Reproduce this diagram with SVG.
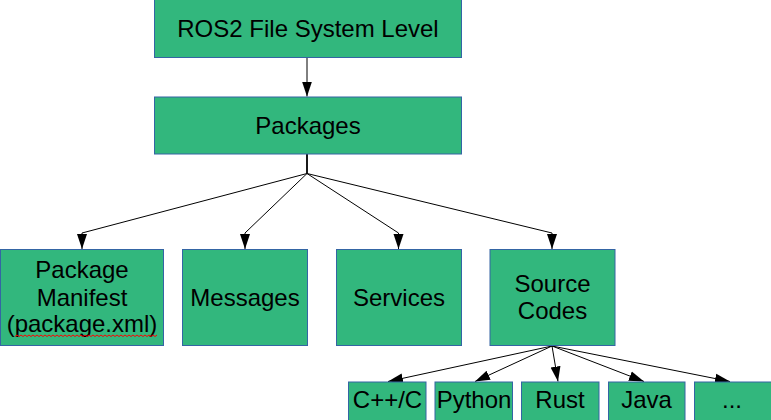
<svg xmlns="http://www.w3.org/2000/svg" width="771" height="420" viewBox="0 0 771 420">
<style>
.box{fill:#32b77d;stroke:#3465a4;stroke-width:1}
.t{font-family:"Liberation Sans",Arial,sans-serif;font-size:24px;fill:#000;text-anchor:middle}
.c{fill:none;stroke:#000;stroke-width:1}
</style>
<defs>
<marker id="ah" markerUnits="userSpaceOnUse" markerWidth="16" markerHeight="12" refX="15" refY="5" orient="auto" viewBox="0 0 16 10">
<path d="M0,0 L15,5 L0,10 z" fill="#000"/>
</marker>
</defs>
<rect width="771" height="420" fill="#fff"/>
<g id="connectors">
<path class="c" d="M307,57.5 L307,96.5" marker-end="url(#ah)"/>
<path d="M307,154 L307,173.5" stroke="#000" stroke-width="1.8" fill="none"/>
<path class="c" d="M307,173.5 L82,233 L82,249" marker-end="url(#ah)"/>
<path class="c" d="M307,173.5 L245,233 L245,249" marker-end="url(#ah)"/>
<path class="c" d="M307,173.5 L398.5,233 L398.5,249" marker-end="url(#ah)"/>
<path class="c" d="M307,173.5 L552,233 L552,249" marker-end="url(#ah)"/>
<path class="c" d="M552,346 L388,381.5" marker-end="url(#ah)"/>
<path class="c" d="M552,346 L475,381.5" marker-end="url(#ah)"/>
<path class="c" d="M552,346 L558,381.5" marker-end="url(#ah)"/>
<path class="c" d="M552,346 L644,381.5" marker-end="url(#ah)"/>
<path class="c" d="M552,346 L730,381.5" marker-end="url(#ah)"/>
</g>
<g id="ros2">
<rect class="box" x="154.5" y="-0.5" width="307" height="58"/>
<text class="t" x="308" y="37">ROS2 File System Level</text>
</g>
<g id="packages">
<rect class="box" x="154.5" y="97" width="307" height="57"/>
<text class="t" x="308" y="133.5">Packages</text>
</g>
<g id="manifest">
<rect class="box" x="0.5" y="249.5" width="163" height="96"/>
<text class="t" x="82" y="278">Package</text>
<text class="t" x="82" y="305.5">Manifest</text>
<text class="t" x="82" y="332">(package.xml)</text>
<path d="M15,336.5 l2,-1.5 l2,1.5 l2,-1.5 l2,1.5 l2,-1.5 l2,1.5 l2,-1.5 l2,1.5 l2,-1.5 l2,1.5 l2,-1.5 l2,1.5 l2,-1.5 l2,1.5 l2,-1.5 l2,1.5 l2,-1.5 l2,1.5 l2,-1.5 l2,1.5 l2,-1.5 l2,1.5 l2,-1.5 l2,1.5 l2,-1.5 l2,1.5 l2,-1.5 l2,1.5 l2,-1.5 l2,1.5 l2,-1.5 l2,1.5 l2,-1.5 l2,1.5 l2,-1.5 l2,1.5 l2,-1.5 l2,1.5 l2,-1.5 l2,1.5 l2,-1.5 l2,1.5 l2,-1.5 l2,1.5 l2,-1.5 l2,1.5 l2,-1.5 l2,1.5 l2,-1.5 l2,1.5 l2,-1.5 l2,1.5 l2,-1.5 l2,1.5 l2,-1.5 l2,1.5 l2,-1.5 l2,1.5 l2,-1.5 l2,1.5 l2,-1.5 l2,1.5 l2,-1.5 l2,1.5 l2,-1.5 l2,1.5 l2,-1.5 l2,1.5 l2,-1.5 l2,1.5 l2,-1.5" fill="none" stroke="#ff0000" stroke-width="1"/>
</g>
<g id="messages">
<rect class="box" x="182.5" y="249.5" width="125" height="96"/>
<text class="t" x="245" y="306">Messages</text>
</g>
<g id="services">
<rect class="box" x="336.5" y="249.5" width="125" height="96"/>
<text class="t" x="399" y="306">Services</text>
</g>
<g id="source">
<rect class="box" x="490" y="249.5" width="125" height="96"/>
<text class="t" x="552.5" y="291.5">Source</text>
<text class="t" x="552.5" y="318.5">Codes</text>
</g>
<g id="cpp">
<rect class="box" x="348.5" y="382" width="77.5" height="45"/>
<text class="t" x="387.5" y="408">C++/C</text>
</g>
<g id="python">
<rect class="box" x="435" y="382" width="77.5" height="45"/>
<text class="t" x="474" y="408">Python</text>
</g>
<g id="rust">
<rect class="box" x="521.5" y="382" width="77.5" height="45"/>
<text class="t" x="560" y="408">Rust</text>
</g>
<g id="java">
<rect class="box" x="608.5" y="382" width="76.5" height="45"/>
<text class="t" x="646.5" y="408">Java</text>
</g>
<g id="more">
<rect class="box" x="694.5" y="382" width="80" height="45"/>
<text class="t" x="732" y="408">...</text>
</g>
</svg>
